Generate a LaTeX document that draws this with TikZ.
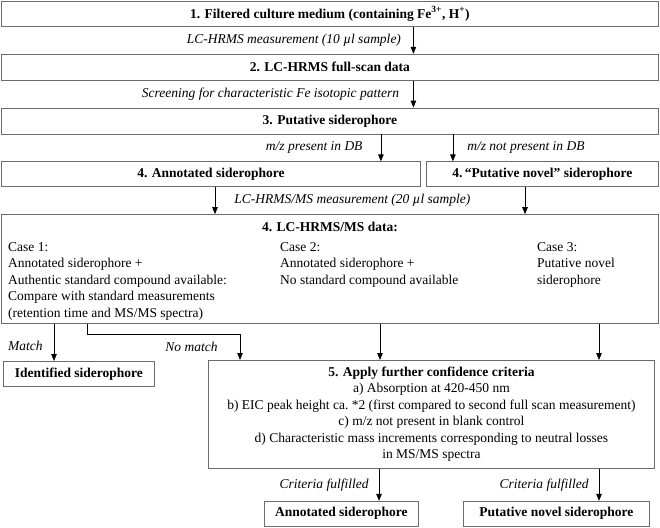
\documentclass[tikz,border=0pt]{standalone}
\usepackage{fontspec}
\setmainfont{Liberation Serif}
\usepackage{tikz}
\usetikzlibrary{arrows.meta, positioning}
\newcommand{\basefont}{\fontsize{13.5pt}{16.5pt}\selectfont}

\begin{document}
\begin{tikzpicture}[
        box/.style={rectangle, draw=gray!85!black, line width=0.8pt, minimum height=26pt, inner sep=0pt, align=center, font=\basefont\bfseries},
        casetext/.style={inner sep=0pt, align=left, font=\basefont},
        lbl/.style={font=\basefont\itshape, inner sep=0pt},
        arrow/.style={-{Triangle[length=7pt, width=5.5pt]}, line width=0.8pt},
        node distance=27pt
    ]
        \useasboundingbox (0pt,0pt) rectangle (660pt,-527pt);

        \node[box, minimum width=657pt, minimum height=25pt, anchor=north west] (filtered) at (1pt,-1pt) {1. Filtered culture medium (containing Fe\textsuperscript{3+}, H\textsuperscript{+})};
        \node[box, minimum width=657pt, below=of filtered] (fullscan) {2. LC-HRMS full-scan data};
        \node[box, minimum width=657pt, below=of fullscan] (putative) {3. Putative siderophore};
        \node[box, minimum width=419pt, minimum height=25pt, below=27pt of putative.south west, anchor=north west] (annotated) {4. Annotated siderophore};
        \node[box, minimum width=232pt, minimum height=25pt, below=27pt of putative.south east, anchor=north east] (novel) {4.\,“Putative novel” siderophore};

        % LC-HRMS/MS data box with its three cases
        \node[box, minimum width=657pt, minimum height=109pt, below=27pt of annotated.south west, anchor=north west] (msms) {};
        \node[font=\basefont\bfseries, inner sep=0pt, below=8pt of msms.north] (msmstitle) {4. LC-HRMS/MS data:};
        \node[casetext, below right=28pt and 7pt of msms.north west] (case1) {Case 1:\\Annotated siderophore +\\Authentic standard compound available:\\Compare with standard measurements\\(retention time and MS/MS spectra)};
        \node[casetext, below right=28pt and 279pt of msms.north west] (case2) {Case 2:\\Annotated siderophore +\\No standard compound available};
        \node[casetext, below right=28pt and 536pt of msms.north west] (case3) {Case 3:\\Putative novel\\siderophore};

        \node[box, minimum width=151pt, minimum height=25pt, below right=37pt and 2pt of msms.south west] (identified) {Identified siderophore};
        \node[box, minimum width=446pt, minimum height=108pt, font=\basefont, below left=36pt and 4pt of msms.south east] (criteria) {\textbf{5. Apply further confidence criteria}\\a) Absorption at 420-450 nm\\b) EIC peak height ca.\ *2 (first compared to second full scan measurement)\\c) m/z not present in blank control\\d) Characteristic mass increments corresponding to neutral losses\\in MS/MS spectra};

        \node[box, minimum width=154pt, minimum height=25pt, below right=32pt and 56pt of criteria.south west] (annotfinal) {Annotated siderophore};
        \node[box, minimum width=186pt, minimum height=25pt, below left=32pt and 5pt of criteria.south east] (novelfinal) {Putative novel siderophore};

        % connectors
        \draw[arrow] ([xshift=83.5pt]filtered.south) -- node[lbl, left=12pt] {LC-HRMS measurement (10 µl sample)} ([xshift=83.5pt]fullscan.north);
        \draw[arrow] ([xshift=83.5pt]fullscan.south) -- node[lbl, left=14pt] {Screening for characteristic Fe isotopic pattern} ([xshift=83.5pt]putative.north);
        \draw[arrow] ([xshift=51pt]putative.south) -- node[lbl, left=18pt] {m/z present in DB} ([xshift=51pt]putative.south |- annotated.north);
        \draw[arrow] ([xshift=123pt]putative.south) -- node[lbl, right=14pt] {m/z not present in DB} ([xshift=123pt]putative.south |- novel.north);
        \draw[arrow] ([xshift=214pt]annotated.south west) -- node[lbl, right=19pt] {LC-HRMS/MS measurement (20 µl sample)} ([xshift=214pt]msms.north west);
        \draw[arrow] ([xshift=524pt]msms.north west |- novel.south) -- ([xshift=524pt]msms.north west);

        \draw[arrow] ([xshift=53pt]msms.south west) -- node[lbl, left=11pt, pos=0.6] {Match} ([xshift=53pt]msms.south west |- identified.north);
        \draw[arrow] ([xshift=86pt]msms.south west) -- ++(0pt,-10pt) -| node[lbl, left=22pt, pos=0.75] {No match} ([xshift=32pt]criteria.north west);
        \draw[arrow] ([xshift=172pt]criteria.north west |- msms.south) -- ([xshift=172pt]criteria.north west);
        \draw[arrow] ([xshift=391pt]criteria.north west |- msms.south) -- ([xshift=391pt]criteria.north west);

        \draw[arrow] ([xshift=171pt]criteria.south west) -- node[lbl, left=10pt] {Criteria fulfilled} ([xshift=171pt]criteria.south west |- annotfinal.north);
        \draw[arrow] ([xshift=391pt]criteria.south west) -- node[lbl, left=10pt] {Criteria fulfilled} ([xshift=391pt]criteria.south west |- novelfinal.north);
    \end{tikzpicture}
\end{document}
